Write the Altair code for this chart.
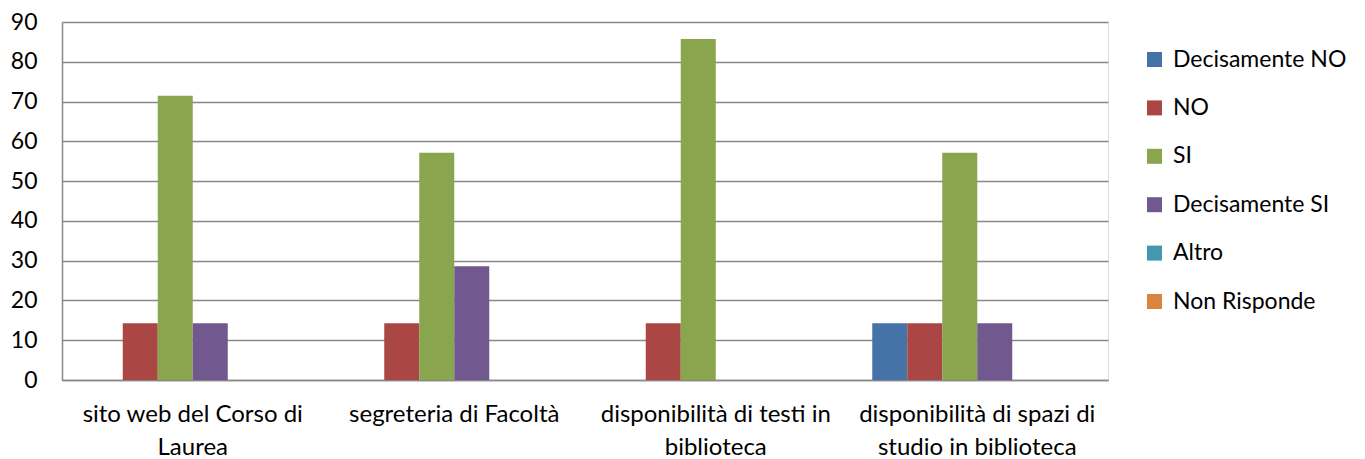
import altair as alt
import pandas as pd

categories = ["sito web del Corso di Laurea", "segreteria di Facoltà",
              "disponibilità di testi in biblioteca",
              "disponibilità di spazi di studio in biblioteca"]
cat_labels = ["sito web del Corso di|Laurea", "segreteria di Facoltà",
              "disponibilità di testi in|biblioteca",
              "disponibilità di spazi di|studio in biblioteca"]
series = ["Decisamente NO", "NO", "SI", "Decisamente SI", "Altro", "Non Risponde"]
colors = ["#4572A7", "#AA4643", "#89A54E", "#71588F", "#4198AF", "#DB843D"]

dec_no = [0, 0, 0, 14.29]
no = [14.29, 14.29, 14.29, 14.29]
si = [71.43, 57.14, 85.71, 57.14]
dec_si = [14.29, 28.57, 0, 14.29]
altro = [0, 0, 0, 0]
non_risponde = [0, 0, 0, 0]

values = [dec_no, no, si, dec_si, altro, non_risponde]
rows = []
for s, vals in zip(series, values):
    for c, v in zip(cat_labels, vals):
        rows.append({"categoria": c, "serie": s, "valore": v})
df = pd.DataFrame(rows)

FONT = "Lato"
FS = 24

chart = alt.Chart(df).mark_bar().encode(
    x=alt.X("categoria:N", sort=cat_labels,
            scale=alt.Scale(paddingInner=0.197, paddingOuter=0.0985),
            axis=alt.Axis(title=None, labelAngle=0, ticks=False,
                          domain=True, domainColor="#888888", domainWidth=1.5,
                          labelExpr="split(datum.label, '|')",
                          labelFont=FONT, labelFontSize=FS, labelColor="#000000",
                          labelPadding=22, labelLineHeight=33, labelLimit=400)),
    xOffset=alt.XOffset("serie:N", sort=series,
                        scale=alt.Scale(paddingInner=0, paddingOuter=0)),
    y=alt.Y("valore:Q",
            scale=alt.Scale(domain=[0, 90], nice=False),
            axis=alt.Axis(title=None, values=list(range(0, 91, 10)), ticks=False,
                          domain=True, domainColor="#888888", domainWidth=1.5,
                          grid=True, gridColor="#888888", gridWidth=1.3,
                          labelFont=FONT, labelFontSize=23, labelColor="#000000",
                          labelPadding=25)),
    color=alt.Color("serie:N", sort=series,
                    scale=alt.Scale(domain=series, range=colors),
                    legend=alt.Legend(title=None, orient="none", legendX=1081, legendY=26,
                                      symbolType="square", symbolSize=225,
                                      symbolStrokeWidth=0,
                                      labelFont=FONT, labelFontSize=23,
                                      labelColor="#000000", labelOffset=7,
                                      rowPadding=24.4, padding=0, labelLimit=300)),
).properties(
    width=1046, height=358,
    autosize=alt.AutoSizeParams(type="none"),
    padding={"left": 54, "top": 14, "right": 245, "bottom": 79},
).configure_view(stroke=None).configure(background="white")

chart.save("out.html", embed_options={"renderer": "svg", "actions": False})
